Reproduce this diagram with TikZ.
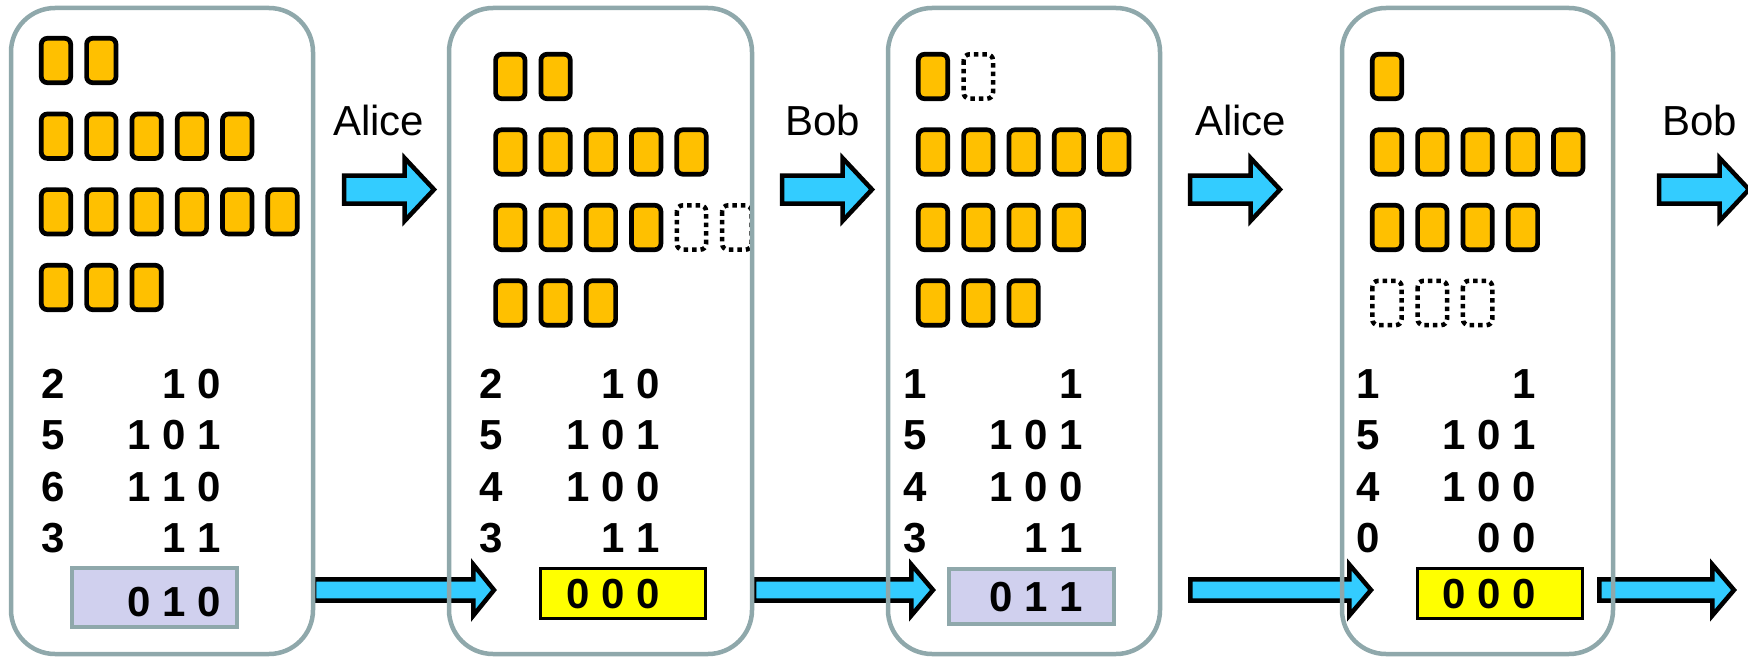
\documentclass[tikz,border=0pt]{standalone}
\usepackage{fontspec}
\setmainfont{Liberation Sans}
\definecolor{panelc}{RGB}{143,168,171}
\definecolor{coinc}{RGB}{255,192,0}
\definecolor{arrowc}{RGB}{51,204,255}
\definecolor{lavc}{RGB}{208,208,238}
\definecolor{yelc}{RGB}{255,255,0}
\tikzset{
 panelst/.style={draw=panelc, line width=4.5pt, rounded corners=44pt},
 coinst/.style={draw=black, fill=coinc, line width=4.7pt, rounded corners=6pt},
 ghostst/.style={draw=black, line width=4.5pt, dash pattern=on 4.5pt off 4pt, rounded corners=6pt},
 arrst/.style={draw=black, fill=arrowc, line width=4.5pt, miter limit=10},
 lavbox/.style={draw=panelc, fill=lavc, line width=4.5pt},
 yelbox/.style={draw=black, fill=yelc, line width=3pt},
 lab/.style={inner sep=0pt, anchor=base west, font=\fontsize{42}{48}\selectfont},
 numl/.style={inner sep=0pt, anchor=base west, font=\fontsize{42}{48}\selectfont\bfseries},
 numr/.style={inner sep=0pt, anchor=base east, font=\fontsize{42}{48}\selectfont\bfseries},
}
\newcommand\crow[5]{\foreach \i in {#3,...,#4}{\draw[#5] ({#1+(\i-1)*45.3+2.3},{#2+2.3}) rectangle ++(29.4,44.4);}}
\newcommand\toparrow[1]{\draw[arrst] (#1+2,175.5) -- (#1+62.5,175.5) -- (#1+62.5,158) -- (#1+92,189.5) -- (#1+62.5,221) -- (#1+62.5,203.5) -- (#1+2,203.5) -- cycle;}
\newcommand\botarrow[3]{\draw[arrst] (#1,579.3) -- (#2,579.3) -- (#2,564.5) -- (#3,590) -- (#2,615.5) -- (#2,600.7) -- (#1,600.7) -- cycle;}
\begin{document}
\begin{tikzpicture}[x=1pt,y=-1pt]
\useasboundingbox (0,0) rectangle (1748,661);
% top arrows and labels
\toparrow{342}
\toparrow{780}
\toparrow{1188}
\toparrow{1657}
\node[lab] (la1) at (333,135) {Alice};
\node[lab] (lb1) at (785,135) {Bob};
\node[lab] (la2) at (1195,135) {Alice};
\node[lab] (lb2) at (1662,135) {Bob};
% bottom arrows
\botarrow{314}{473.3}{494}
\botarrow{754}{911.3}{933}
\botarrow{1190.3}{1349.3}{1371}
\botarrow{1599.3}{1712.3}{1734}
% panel 1 coins
\crow{39}{36}{1}{2}{coinst}
\crow{39}{111.7}{1}{5}{coinst}
\crow{39}{187.3}{1}{6}{coinst}
\crow{39}{263}{1}{3}{coinst}
% panel 2 coins
\crow{493.3}{52}{1}{2}{coinst}
\crow{493.3}{127.5}{1}{5}{coinst}
\crow{493.3}{203}{1}{4}{coinst}
\crow{493.3}{203}{5}{6}{ghostst}
\crow{493.3}{278.5}{1}{3}{coinst}
% panel 3 coins
\crow{916}{52}{1}{1}{coinst}
\crow{916}{52}{2}{2}{ghostst}
\crow{916}{127.5}{1}{5}{coinst}
\crow{916}{203}{1}{4}{coinst}
\crow{916}{278.5}{1}{3}{coinst}
% panel 4 coins
\crow{1370}{52}{1}{1}{coinst}
\crow{1370}{127.5}{1}{5}{coinst}
\crow{1370}{203}{1}{4}{coinst}
\crow{1370}{278.5}{1}{3}{ghostst}
% panel 1 numbers
\node[numl] (a1) at (41,398) {2};
\node[numl] (a2) at (41,449.5) {5};
\node[numl] (a3) at (41,501) {6};
\node[numl] (a4) at (41,552.5) {3};
\node[numr] (ab1) at (221,398) {1 0};
\node[numr] (ab2) at (221,449.5) {1 0 1};
\node[numr] (ab3) at (221,501) {1 1 0};
\node[numr] (ab4) at (221,552.5) {1 1};
\draw[lavbox] (72.2,568.2) rectangle (236.8,626.8);
\node[numr] (ax) at (221.5,616) {0 1 0};
% panel 2 numbers
\node[numl] (b1) at (479,398) {2};
\node[numl] (b2) at (479,449.5) {5};
\node[numl] (b3) at (479,501) {4};
\node[numl] (b4) at (479,552.5) {3};
\node[numr] (bb1) at (660,398) {1 0};
\node[numr] (bb2) at (660,449.5) {1 0 1};
\node[numr] (bb3) at (660,501) {1 0 0};
\node[numr] (bb4) at (660,552.5) {1 1};
\draw[yelbox] (540.5,568.5) rectangle (705.5,618.5);
\node[numr] (bx) at (660.5,608) {0 0 0};
% panel 3 numbers
\node[numl] (c1) at (903,398) {1};
\node[numl] (c2) at (903,449.5) {5};
\node[numl] (c3) at (903,501) {4};
\node[numl] (c4) at (903,552.5) {3};
\node[numr] (cb1) at (1083,398) {1};
\node[numr] (cb2) at (1083,449.5) {1 0 1};
\node[numr] (cb3) at (1083,501) {1 0 0};
\node[numr] (cb4) at (1083,552.5) {1 1};
\draw[lavbox] (949.2,569.2) rectangle (1113.8,623.8);
\node[numr] (cx) at (1083,611) {0 1 1};
% panel 4 numbers
\node[numl] (d1) at (1356,398) {1};
\node[numl] (d2) at (1356,449.5) {5};
\node[numl] (d3) at (1356,501) {4};
\node[numl] (d4) at (1356,552.5) {0};
\node[numr] (db1) at (1536.5,398) {1};
\node[numr] (db2) at (1536.5,449.5) {1 0 1};
\node[numr] (db3) at (1536.5,501) {1 0 0};
\node[numr] (db4) at (1536.5,552.5) {0 0};
\draw[yelbox] (1417.5,568.5) rectangle (1582.5,618.5);
\node[numr] (dx) at (1536.5,608) {0 0 0};
% panels on top
\draw[panelst] (11,8) rectangle (313,654);
\draw[panelst] (449,8) rectangle (752,654);
\draw[panelst] (888,8) rectangle (1160,654);
\draw[panelst] (1342,8) rectangle (1613,654);
\end{tikzpicture}
\end{document}
